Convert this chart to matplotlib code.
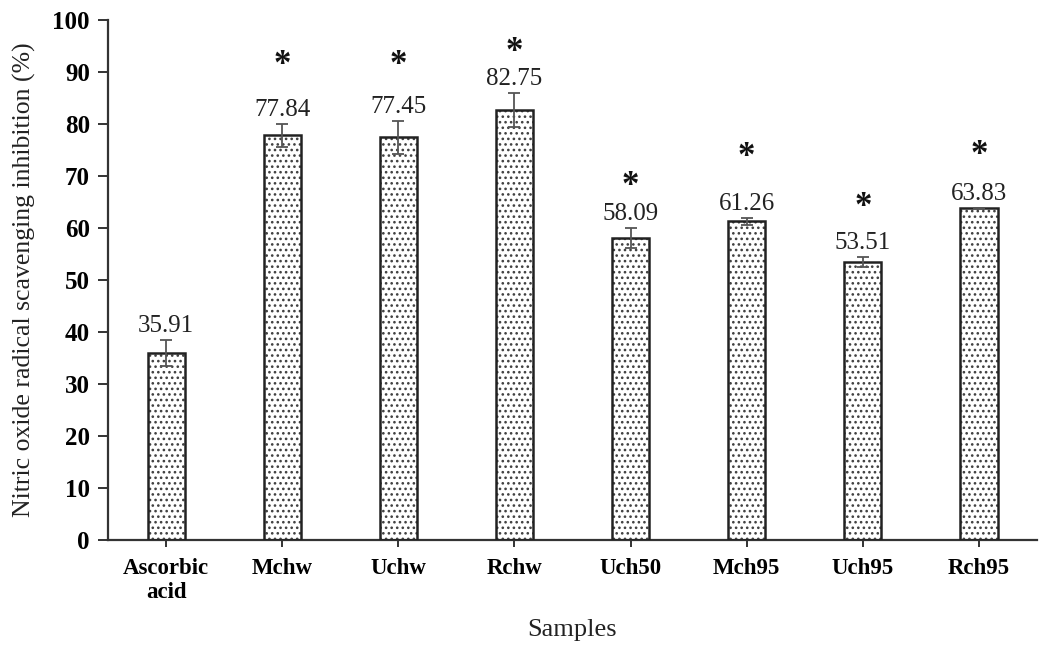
import numpy as np
import matplotlib
matplotlib.use("Agg")
import matplotlib.pyplot as plt

# ==== DATA ====
samples = ["Ascorbic\nacid", "Mchw", "Uchw", "Rchw", "Uch50", "Mch95", "Uch95", "Rch95"]
inhibition = [35.91, 77.84, 77.45, 82.75, 58.09, 61.26, 53.51, 63.83]
sd = [2.5, 2.2, 3.2, 3.3, 2.0, 0.7, 1.0, 0.0]
# y position (data units) of the significance star, None = no star
star_y = [None, 91.3, 91.3, 93.8, 67.9, 73.5, 64.0, 74.0]

plt.rcParams['font.family'] = ['Liberation Serif', 'DejaVu Serif']
plt.rcParams['hatch.linewidth'] = 1.1

fig = plt.figure(figsize=(10.55, 6.54), dpi=100)
ax = fig.add_axes([0.1024, 0.1743, 0.8806, 0.7951])

x = np.arange(len(samples))
# dotted fill (grey dots), then the black outline on top
ax.bar(x, inhibition, width=0.32, color='white', edgecolor='#404040',
       hatch='...', linewidth=0, zorder=2)
ax.bar(x, inhibition, width=0.32, color='none', edgecolor='#222222',
       linewidth=1.8, zorder=3)
ax.errorbar(x, inhibition, yerr=sd, fmt='none', ecolor='#555555',
            elinewidth=1.3, capsize=4.5, capthick=1.3, zorder=4)

# value labels above the error bars
for xi, v, e in zip(x, inhibition, sd):
    ax.annotate(f"{v:.2f}", (xi, v + e), xytext=(0, 2), textcoords='offset points',
                ha='center', va='bottom', fontsize=18, color='#222222')

# significance stars
for xi, sy in zip(x, star_y):
    if sy is not None:
        ax.text(xi, sy, "*", ha='center', va='center', fontsize=25,
                fontweight='bold', color='#111111')

ax.set_xlim(-0.5, len(samples) - 0.5)
ax.set_ylim(0, 100)
ax.set_yticks(np.arange(0, 101, 10))
ax.set_xticks(x)
ax.set_xticklabels(samples, fontsize=16.5, fontweight='bold')
for lab in ax.get_yticklabels():
    lab.set_fontweight('bold')
    lab.set_fontsize(18)

ax.spines['top'].set_visible(False)
ax.spines['right'].set_visible(False)
ax.spines['left'].set_linewidth(1.6)
ax.spines['bottom'].set_linewidth(1.6)
ax.spines['left'].set_color('#333333')
ax.spines['bottom'].set_color('#333333')
ax.tick_params(axis='y', length=7, width=1.4, color='#333333', pad=6)
ax.tick_params(axis='x', length=5, width=1.4, color='#333333', pad=8)

ax.set_xlabel("Samples", fontsize=19, labelpad=11, color='#222222')
ax.set_ylabel("Nitric oxide radical scavenging inhibition (%)", fontsize=18.5,
              labelpad=12, color='#222222')

fig.savefig("out.png", dpi=100)
